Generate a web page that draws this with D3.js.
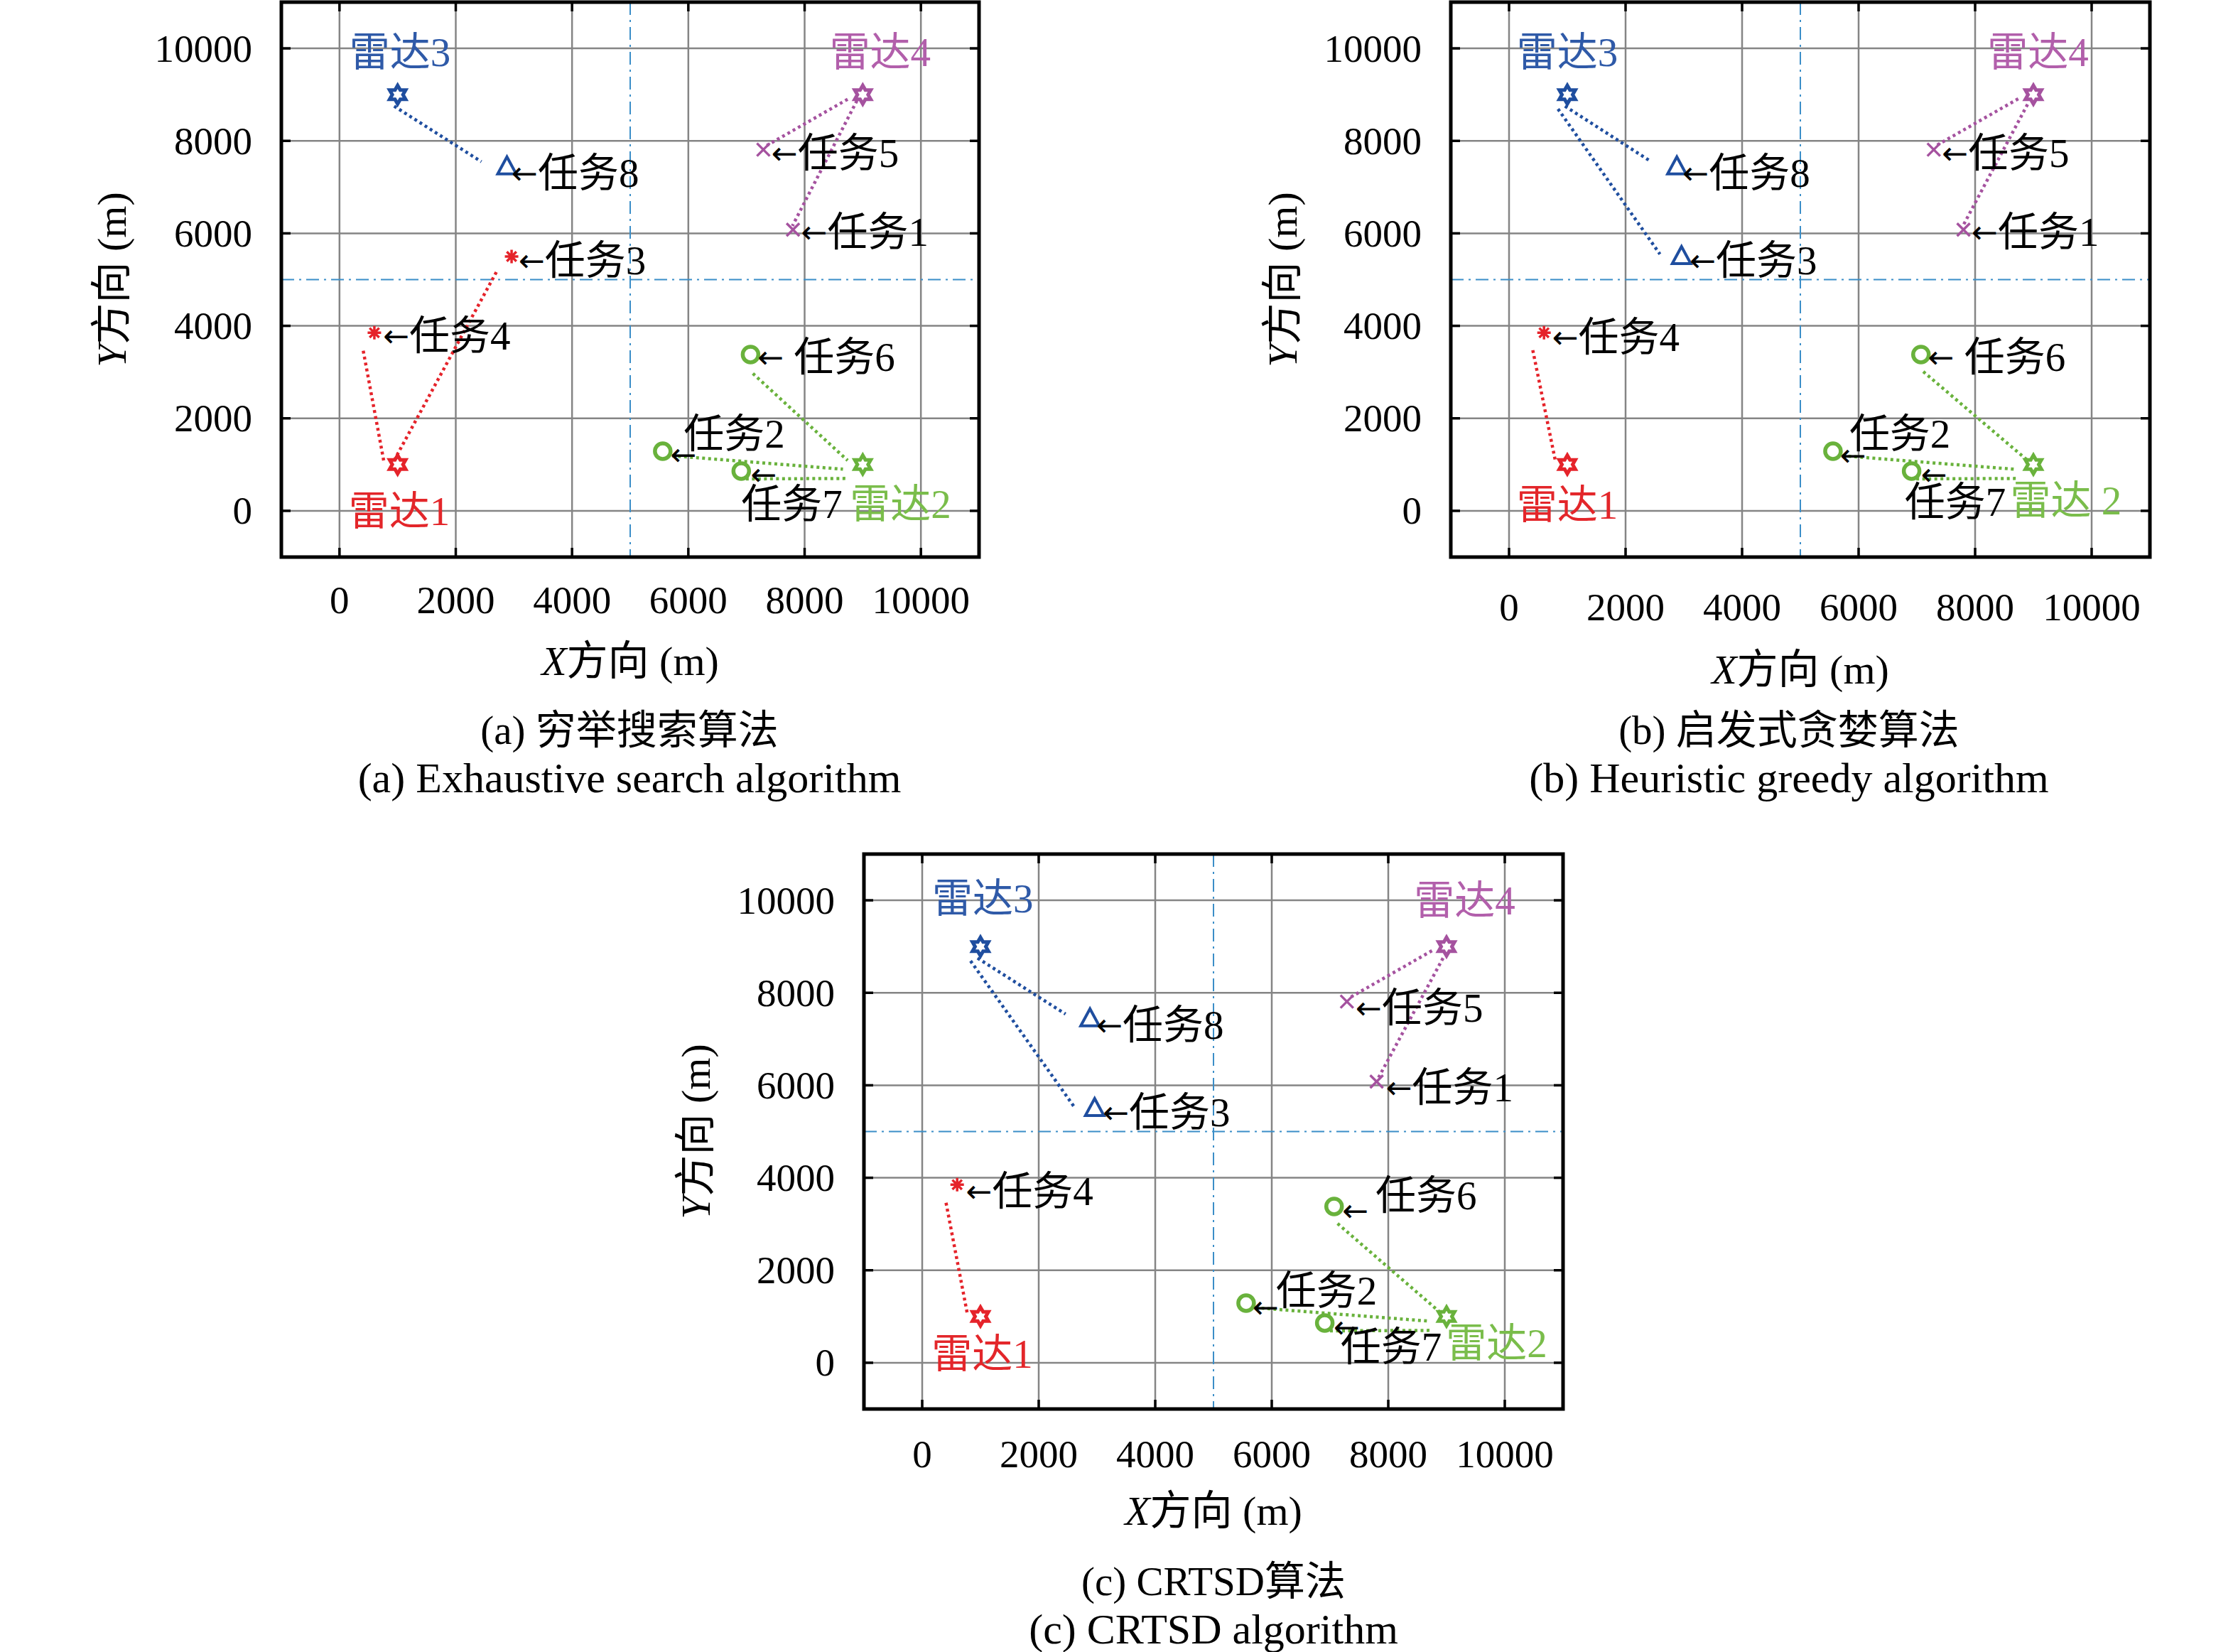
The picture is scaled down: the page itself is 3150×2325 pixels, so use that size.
<!DOCTYPE html>
<html>
<head>
<meta charset="utf-8">
<script src="https://cdn.jsdelivr.net/npm/d3@7"></script>
<style>
body { margin: 0; background: #fff; }
text { font-family: "Liberation Serif", "Noto Sans CJK SC", serif; fill: #000; }
</style>
</head>
<body>
<div id="chart"></div>
<script>
// ---- data (metres) ----
const radarNames = ["雷达1", "雷达2", "雷达3", "雷达4"];
const radarX = [1000, 9000, 1000, 9000];
const radarY = [1000, 1000, 9000, 9000];

const taskNames = ["任务1", "任务2", "任务3", "任务4", "任务5", "任务6", "任务7", "任务8"];
const taskX = [7800, 5560, 2960, 600, 7290, 7070, 6910, 2880];
const taskY = [6080, 1290, 5500, 3850, 7810, 3380, 860, 7440];

// radar (1..4) each task is assigned to
const assignA = [4, 2, 1, 1, 4, 2, 2, 3];
const assignB = [4, 2, 3, 1, 4, 2, 2, 3];
const assignC = [4, 2, 3, 1, 4, 2, 2, 3];

// dotted links: [radar, x1, y1, x2, y2]
const linksA = [
  [1, 940, 1090, 2710, 5190],
  [1, 760, 1090, 400, 3520],
  [3, 940, 8750, 2440, 7550],
  [4, 8740, 8900, 7350, 7900],
  [4, 8900, 8870, 7790, 6160],
  [2, 7110, 2970, 8740, 1090],
  [2, 5720, 1190, 8660, 900],
  [2, 6990, 690, 8720, 700]
];
const linksB = [
  [1, 790, 1110, 400, 3520],
  [3, 960, 8750, 2440, 7550],
  [3, 840, 8690, 2590, 5550],
  [4, 8740, 8910, 7350, 7910],
  [4, 8900, 8790, 7790, 6160],
  [2, 7110, 3010, 8900, 1090],
  [2, 5720, 1190, 8670, 900],
  [2, 6990, 690, 8740, 700]
];
const linksC = [
  [1, 770, 1090, 400, 3520],
  [3, 950, 8750, 2460, 7540],
  [3, 830, 8690, 2600, 5550],
  [4, 8750, 8910, 7360, 7910],
  [4, 8940, 8750, 7830, 6160],
  [2, 7130, 3010, 8890, 1090],
  [2, 5720, 1190, 8700, 900],
  [2, 7000, 690, 8750, 700]
];

// annotation texts: [text, x, y, radar colour (0 = black), anchor]
const labelsA = [
  ["雷达1", 1030, 0, 1, "middle"], ["雷达2", 9650, 160, 2, "middle"],
  ["雷达3", 1040, 9920, 3, "middle"], ["雷达4", 9300, 9920, 4, "middle"],
  ["←任务8", 2960, 7320, 0, "start"], ["←任务5", 7430, 7750, 0, "start"],
  ["←任务1", 7940, 6030, 0, "start"], ["←任务3", 3080, 5420, 0, "start"],
  ["←任务4", 750, 3790, 0, "start"], ["←\u00a0任务6", 7190, 3330, 0, "start"],
  ["任务2", 5920, 1680, 0, "start"], ["←", 5690, 1230, 0, "start"],
  ["任务7", 6910, 160, 0, "start"], ["←", 7070, 800, 0, "start"]
];
const labelsB = [
  ["雷达1", 1000, 130, 1, "middle"], ["雷达\u00a02", 9560, 230, 2, "middle"],
  ["雷达3", 1000, 9920, 3, "middle"], ["雷达4", 9080, 9920, 4, "middle"],
  ["←任务8", 2980, 7320, 0, "start"], ["←任务3", 3100, 5420, 0, "start"],
  ["←任务4", 740, 3770, 0, "start"], ["←任务5", 7430, 7750, 0, "start"],
  ["←任务1", 7940, 6030, 0, "start"], ["←\u00a0任务6", 7190, 3330, 0, "start"],
  ["任务2", 5840, 1680, 0, "start"], ["←", 5680, 1220, 0, "start"],
  ["任务7", 6790, 200, 0, "start"], ["←", 7070, 800, 0, "start"]
];
const labelsC = [
  ["雷达1", 1030, 200, 1, "middle"], ["雷达2", 9860, 430, 2, "middle"],
  ["雷达3", 1040, 10040, 3, "middle"], ["雷达4", 9310, 10000, 4, "middle"],
  ["←任务8", 2990, 7320, 0, "start"], ["←任务3", 3100, 5420, 0, "start"],
  ["←任务4", 750, 3720, 0, "start"], ["←任务5", 7440, 7680, 0, "start"],
  ["←任务1", 7960, 5960, 0, "start"],
  ["任务6", 7780, 3630, 0, "start"], ["←", 7210, 3300, 0, "start"],
  ["任务2", 6070, 1560, 0, "start"], ["←", 5670, 1210, 0, "start"],
  ["任务7", 7180, 350, 0, "start"], ["←", 7060, 790, 0, "start"]
];

const ticks = [0, 2000, 4000, 6000, 8000, 10000];
const domain = [-1000, 11000];
const splitAt = 5000;

const captionsZh = ["(a) 穷举搜索算法", "(b) 启发式贪婪算法", "(c) CRTSD算法"];
const captionsEn = ["(a) Exhaustive search algorithm", "(b) Heuristic greedy algorithm", "(c) CRTSD algorithm"];

// ---- styling / layout ----
const markColor = {1: "#e5232a", 2: "#69b23c", 3: "#1f4e9f", 4: "#a5529f"};
const textColor = {0: "#000", 1: "#e3262a", 2: "#7abd4b", 3: "#2f5aa8", 4: "#b25fab"};

const panels = [
  {l: 396, r: 1378, t: 3, b: 784, tickY: 844, xLabY: 930, yLabX: 157, capX: 886, capY: 1027,
   assign: assignA, links: linksA, labels: labelsA},
  {l: 2042, r: 3026, t: 3, b: 784, tickY: 854, xLabY: 942, yLabX: 1805, capX: 2518, capY: 1027,
   assign: assignB, links: linksB, labels: labelsB},
  {l: 1216, r: 2200, t: 1202, b: 1983, tickY: 2046, xLabY: 2126, yLabX: 979, capX: 1708, capY: 2225,
   assign: assignC, links: linksC, labels: labelsC}
];

const svg = d3.select("#chart").append("svg")
  .attr("width", 3150)
  .attr("height", 2325)
  .style("background", "#fff");

function hexagram(R) {
  const pts = d3.range(12).map(i => {
    const a = (-90 + i * 30) * Math.PI / 180;
    const r = i % 2 === 0 ? R : R / Math.sqrt(3);
    return [r * Math.cos(a), r * Math.sin(a)];
  });
  return "M" + pts.join("L") + "Z";
}

function drawMarker(g, kind, cx, cy) {
  const c = markColor[kind];
  if (kind === 1) {
    // asterisk
    const s = 9.5;
    let d = "";
    [0, 45, 90, 135].forEach(a => {
      const r = a * Math.PI / 180;
      d += `M${cx - s * Math.cos(r)},${cy - s * Math.sin(r)}L${cx + s * Math.cos(r)},${cy + s * Math.sin(r)}`;
    });
    g.append("path").attr("d", d).attr("stroke", c).attr("stroke-width", 3.5).attr("fill", "none");
  } else if (kind === 2) {
    g.append("circle").attr("cx", cx).attr("cy", cy).attr("r", 11)
      .attr("fill", "none").attr("stroke", c).attr("stroke-width", 5.5);
  } else if (kind === 3) {
    g.append("path")
      .attr("d", `M${cx},${cy - 14}L${cx + 13},${cy + 10}L${cx - 13},${cy + 10}Z`)
      .attr("fill", "none").attr("stroke", c).attr("stroke-width", 4).attr("stroke-linejoin", "miter");
  } else {
    const s = 9;
    g.append("path")
      .attr("d", `M${cx - s},${cy - s}L${cx + s},${cy + s}M${cx - s},${cy + s}L${cx + s},${cy - s}`)
      .attr("stroke", c).attr("stroke-width", 3.5).attr("fill", "none");
  }
}

panels.forEach((p, k) => {
  const x = d3.scaleLinear().domain(domain).range([p.l, p.r]);
  const y = d3.scaleLinear().domain(domain).range([p.b, p.t]);
  const g = svg.append("g");

  // grid
  g.selectAll(".gx").data(ticks).enter().append("line")
    .attr("x1", d => x(d)).attr("x2", d => x(d))
    .attr("y1", p.t).attr("y2", p.b)
    .attr("stroke", "#858585").attr("stroke-width", 2.5);
  g.selectAll(".gy").data(ticks).enter().append("line")
    .attr("y1", d => y(d)).attr("y2", d => y(d))
    .attr("x1", p.l).attr("x2", p.r)
    .attr("stroke", "#858585").attr("stroke-width", 2.5);

  // dash-dot quadrant lines
  g.append("line").attr("x1", x(splitAt)).attr("x2", x(splitAt)).attr("y1", p.t).attr("y2", p.b)
    .attr("stroke", "#3b8ec8").attr("stroke-width", 2).attr("stroke-dasharray", "18 7 3 7");
  g.append("line").attr("y1", y(splitAt)).attr("y2", y(splitAt)).attr("x1", p.l).attr("x2", p.r)
    .attr("stroke", "#3b8ec8").attr("stroke-width", 2).attr("stroke-dasharray", "18 7 3 7");

  // inner ticks on all sides
  const tl = 13;
  ticks.forEach(t => {
    g.append("line").attr("x1", p.l).attr("x2", p.l + tl).attr("y1", y(t)).attr("y2", y(t))
      .attr("stroke", "#000").attr("stroke-width", 3.5);
    g.append("line").attr("x1", p.r).attr("x2", p.r - tl).attr("y1", y(t)).attr("y2", y(t))
      .attr("stroke", "#000").attr("stroke-width", 3.5);
    g.append("line").attr("y1", p.b).attr("y2", p.b - tl).attr("x1", x(t)).attr("x2", x(t))
      .attr("stroke", "#000").attr("stroke-width", 3.5);
    g.append("line").attr("y1", p.t).attr("y2", p.t + tl).attr("x1", x(t)).attr("x2", x(t))
      .attr("stroke", "#000").attr("stroke-width", 3.5);
  });

  // dotted links
  g.selectAll(".link").data(p.links).enter().append("line")
    .attr("x1", d => x(d[1])).attr("y1", d => y(d[2]))
    .attr("x2", d => x(d[3])).attr("y2", d => y(d[4]))
    .attr("stroke", d => markColor[d[0]])
    .attr("stroke-width", 4.5)
    .attr("stroke-dasharray", "4 4.5");

  // radars
  radarX.forEach((rx, i) => {
    g.append("path")
      .attr("transform", `translate(${x(rx)},${y(radarY[i])})`)
      .attr("d", hexagram(13))
      .attr("fill", "#fff")
      .attr("stroke", markColor[i + 1])
      .attr("stroke-width", 5)
      .attr("stroke-linejoin", "miter");
  });

  // tasks
  taskX.forEach((tx, i) => drawMarker(g, p.assign[i], x(tx), y(taskY[i])));

  // annotations
  p.labels.forEach(L => {
    const t = g.append("text")
      .attr("x", x(L[1])).attr("y", y(L[2]))
      .attr("text-anchor", L[4])
      .attr("dominant-baseline", "central")
      .style("font-size", "57px")
      .style("fill", textColor[L[3]]);
    let s = L[0];
    if (s.startsWith("←")) {
      t.append("tspan").text("←")
        .style("font-family", "'DejaVu Sans'")
        .style("font-size", "44px");
      s = s.slice(1);
    }
    if (s.length) t.append("tspan").text(s);
  });

  // frame
  g.append("rect").attr("x", p.l).attr("y", p.t)
    .attr("width", p.r - p.l).attr("height", p.b - p.t)
    .attr("fill", "none").attr("stroke", "#000").attr("stroke-width", 5);

  // tick labels
  g.selectAll(".xt").data(ticks).enter().append("text")
    .attr("x", d => x(d)).attr("y", p.tickY)
    .attr("text-anchor", "middle").attr("dominant-baseline", "central")
    .style("font-size", "55px")
    .text(d => d);
  g.selectAll(".yt").data(ticks).enter().append("text")
    .attr("x", p.l - 41).attr("y", d => y(d))
    .attr("text-anchor", "end").attr("dominant-baseline", "central")
    .style("font-size", "55px")
    .text(d => d);

  // axis titles
  const xl = g.append("text")
    .attr("x", (p.l + p.r) / 2).attr("y", p.xLabY)
    .attr("text-anchor", "middle").attr("dominant-baseline", "central")
    .style("font-size", "58px");
  xl.append("tspan").style("font-style", "italic").text("X");
  xl.append("tspan").text("方向 (m)");

  const yl = g.append("text")
    .attr("transform", `translate(${p.yLabX},${(p.t + p.b) / 2}) rotate(-90)`)
    .attr("text-anchor", "middle").attr("dominant-baseline", "central")
    .style("font-size", "58px");
  yl.append("tspan").style("font-style", "italic").text("Y");
  yl.append("tspan").text("方向 (m)");

  // captions
  g.append("text").attr("x", p.capX).attr("y", p.capY)
    .attr("text-anchor", "middle").attr("dominant-baseline", "central")
    .style("font-size", "57px").text(captionsZh[k]);
  g.append("text").attr("x", p.capX).attr("y", p.capY + 68)
    .attr("text-anchor", "middle").attr("dominant-baseline", "central")
    .style("font-size", "60px").text(captionsEn[k]);
});
</script>
</body>
</html>
